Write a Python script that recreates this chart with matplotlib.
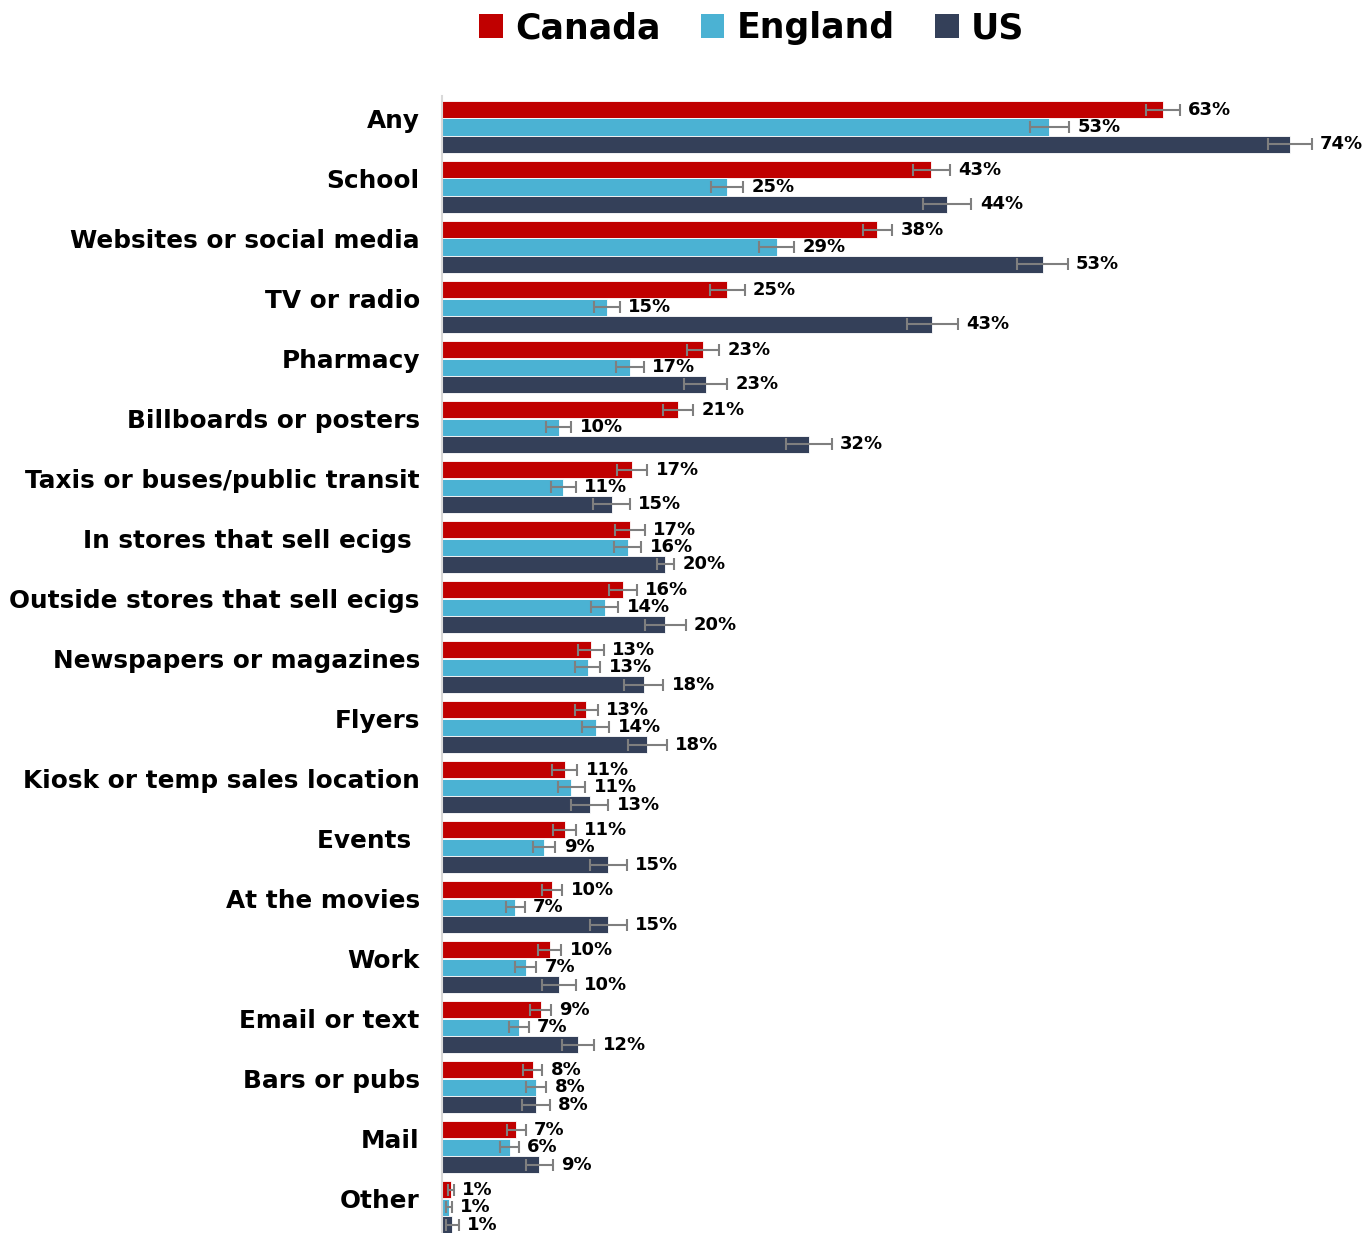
import numpy as np
import matplotlib
matplotlib.use("Agg")
import matplotlib.pyplot as plt
from matplotlib.patches import Patch

categories = ["Any", "School", "Websites or social media", "TV or radio", "Pharmacy",
              "Billboards or posters", "Taxis or buses/public transit",
              "In stores that sell ecigs ", "Outside stores that sell ecigs",
              "Newspapers or magazines", "Flyers", "Kiosk or temp sales location",
              "Events ", "At the movies", "Work", "Email or text", "Bars or pubs",
              "Mail", "Other"]

canada = [62.9, 42.7, 38.0, 24.9, 22.8, 20.6, 16.6, 16.4, 15.8, 13.0, 12.6, 10.7,
          10.7, 9.6, 9.4, 8.6, 7.9, 6.5, 0.8]
england = [53.0, 24.9, 29.2, 14.4, 16.4, 10.2, 10.6, 16.2, 14.2, 12.7, 13.4, 11.3,
           8.9, 6.4, 7.3, 6.7, 8.2, 5.9, 0.6]
us = [74.0, 44.1, 52.4, 42.8, 23.0, 32.0, 14.8, 19.5, 19.5, 17.6, 17.9, 12.9,
      14.5, 14.5, 10.2, 11.9, 8.2, 8.5, 0.9]

canada_err = [1.5, 1.6, 1.3, 1.5, 1.4, 1.3, 1.3, 1.3, 1.2, 1.1, 1.0, 1.1,
              1.0, 0.9, 1.0, 0.9, 0.85, 0.8, 0.25]
england_err = [1.7, 1.4, 1.5, 1.1, 1.2, 1.1, 1.1, 1.2, 1.2, 1.1, 1.2, 1.2,
               1.0, 0.8, 0.9, 0.85, 0.9, 0.8, 0.25]
us_err = [1.9, 2.1, 2.2, 2.2, 1.9, 2.0, 1.6, 0.75, 1.75, 1.7, 1.7, 1.6,
          1.6, 1.6, 1.45, 1.4, 1.2, 1.2, 0.55]

canada_lbl = ["63%", "43%", "38%", "25%", "23%", "21%", "17%", "17%", "16%", "13%",
              "13%", "11%", "11%", "10%", "10%", "9%", "8%", "7%", "1%"]
england_lbl = ["53%", "25%", "29%", "15%", "17%", "10%", "11%", "16%", "14%", "13%",
               "14%", "11%", "9%", "7%", "7%", "7%", "8%", "6%", "1%"]
us_lbl = ["74%", "44%", "53%", "43%", "23%", "32%", "15%", "20%", "20%", "18%",
          "18%", "13%", "15%", "15%", "10%", "12%", "8%", "9%", "1%"]

series = [("Canada", canada, canada_err, canada_lbl, "#C00000"),
          ("England", england, england_err, england_lbl, "#4BB2D3"),
          ("US", us, us_err, us_lbl, "#344059")]

plt.rcParams["font.family"] = ["DejaVu Sans"]
plt.rcParams["font.weight"] = "bold"

W, H = 1364, 1233
fig = plt.figure(figsize=(W / 100, H / 100), dpi=100)
ax = fig.add_axes([442 / W, 0, 1 - 442 / W, (H - 96) / H])

y = np.arange(len(categories))
step = 0.29
for k, (name, vals, errs, lbls, col) in enumerate(series):
    yy = y + (k - 1) * step
    ax.barh(yy, vals, height=0.285, color=col, edgecolor="white", linewidth=0.6, zorder=2)
    ax.errorbar(vals, yy, xerr=errs, fmt="none", ecolor="#7F7F7F", elinewidth=1.5,
                capsize=4.5, capthick=1.5, zorder=3)
    for v, e, t, yc in zip(vals, errs, lbls, yy):
        ax.annotate(t, xy=(v + e, yc), xytext=(6, 0), textcoords="offset points",
                    ha="left", va="center", fontsize=13, fontweight="bold",
                    color="black", annotation_clip=False, zorder=4)

ax.set_xlim(0, (W - 442) / 11.46)
ax.set_ylim(18.43, -0.517)
ax.set_xticks([])
ax.set_yticks([])
for s in ["top", "right", "bottom"]:
    ax.spines[s].set_visible(False)
ax.spines["left"].set_color("#D9D9D9")
ax.spines["left"].set_linewidth(1.5)

for g, c in zip(y, categories):
    ax.annotate(c, xy=(0, g), xycoords=("axes fraction", "data"), xytext=(-16, -0.5),
                textcoords="offset points", ha="right", va="baseline",
                fontsize=17.8, fontweight="bold", color="black", annotation_clip=False)

handles = [Patch(facecolor=col, edgecolor="none", label=name) for name, _, _, _, col in series]
fig.legend(handles=handles, loc="center", bbox_to_anchor=(0.551, 0.977), ncol=3,
           frameon=False, handlelength=0.69, handleheight=0.69,
           handletextpad=0.35, columnspacing=1.15, prop={"weight": "bold", "size": 25})

fig.savefig("out.png", dpi=100)
